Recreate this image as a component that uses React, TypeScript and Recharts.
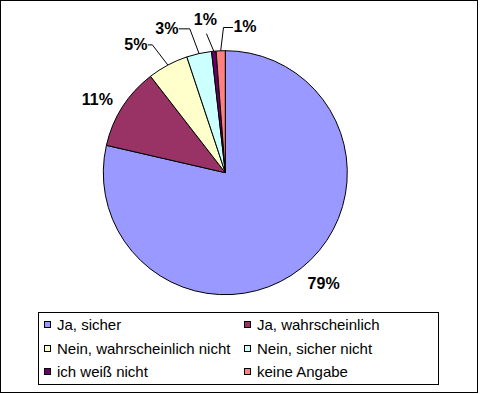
import React from "react";
import { PieChart, Pie, Cell, Legend } from "recharts";

const categories = [
  "Ja, sicher",
  "Ja, wahrscheinlich",
  "Nein, wahrscheinlich nicht",
  "Nein, sicher nicht",
  "ich weiß nicht",
  "keine Angabe",
];
const shares = [78.6, 10.9, 5.4, 3.3, 0.6, 1.2];
const COLORS = ["#9999FF", "#993366", "#FFFFCC", "#CCFFFF", "#660066", "#FF8080"];

const data = categories.map((name, i) => ({ name, value: shares[i] }));

const FONT = "'Liberation Sans', Arial, sans-serif";

// label placement style: angle nudge (deg), extra radius, leader horizontal length
const LABEL_NUDGE = [3.1, 2.7, 6.9, 9.7, 2.0, -9.8];
const LABEL_EXTRA = [26, 25.5, 34, 33.3, 32.3, 26];
const LEADER_H = [0, 0, 4.5, 11, 0, 9.5];
const LEADER = [false, false, true, true, true, true];

const RAD = Math.PI / 180;

const renderLabel = (props: any) => {
  const { cx, cy, midAngle, outerRadius, index, percent } = props;
  const a = midAngle + LABEL_NUDGE[index];
  const r = outerRadius + LABEL_EXTRA[index];
  const x = cx + r * Math.cos(-a * RAD);
  const y = cy + r * Math.sin(-a * RAD);
  const txt = `${Math.round(percent * 100)}%`;
  const halfW = txt.length > 2 ? 15 : 11;
  const ex = cx + outerRadius * Math.cos(-midAngle * RAD);
  const ey = cy + outerRadius * Math.sin(-midAngle * RAD);
  let line = null;
  if (LEADER[index]) {
    let pts: string;
    if (LEADER_H[index] === 0) {
      pts = `${x + 1},${y + 14} ${ex},${ey}`;
    } else if (x < ex) {
      const sx = x + halfW + 1;
      pts = `${sx},${y} ${sx + LEADER_H[index]},${y} ${ex},${ey}`;
    } else {
      const sx = x - halfW - 1;
      pts = `${sx},${y + 1.5} ${sx - LEADER_H[index]},${y + 1.5} ${ex},${ey}`;
    }
    line = <polyline points={pts} fill="none" stroke="#000" strokeWidth={1} />;
  }
  return (
    <g key={`lbl-${index}`}>
      {line}
      <text
        x={x}
        y={y}
        textAnchor="middle"
        dominantBaseline="central"
        fontFamily={FONT}
        fontWeight="bold"
        fontSize={16}
        fill="#000"
      >
        {txt}
      </text>
    </g>
  );
};

const renderLegend = () => {
  return (
    <div
      style={{
        boxSizing: "border-box",
        width: 401,
        height: 73,
        border: "1px solid #000",
        background: "#fff",
        display: "grid",
        gridTemplateColumns: "200px 200px",
        gridAutoRows: "23.5px",
        paddingLeft: 5,
        fontFamily: FONT,
        fontSize: 15,
        color: "#000",
      }}
    >
      {categories.map((name, i) => (
        <div
          key={i}
          style={{ display: "flex", alignItems: "center", whiteSpace: "nowrap" }}
        >
          <span
            style={{
              display: "inline-block",
              boxSizing: "border-box",
              width: 7,
              height: 7,
              border: "1px solid #000",
              background: COLORS[i],
              marginRight: 6,
            }}
          />
          <span>{name}</span>
        </div>
      ))}
    </div>
  );
};

export default function App() {
  return (
    <div
      style={{
        position: "absolute",
        left: 0,
        top: 0,
        width: 478,
        height: 393,
        boxSizing: "border-box",
        border: "1px solid #000",
        background: "#fff",
      }}
    >
      <div style={{ position: "absolute", left: -1, top: -1 }}>
        <PieChart width={480} height={394} margin={{ top: 0, right: 0, bottom: 0, left: 0 }}>
          <Pie
            data={data}
            dataKey="value"
            nameKey="name"
            cx={225.3}
            cy={172.7}
            outerRadius={122}
            startAngle={90}
            endAngle={-270}
            stroke="#000"
            strokeWidth={1}
            label={renderLabel}
            labelLine={false}
            isAnimationActive={false}
          >
            {data.map((d, i) => (
              <Cell key={d.name} fill={COLORS[i]} />
            ))}
          </Pie>
          <Legend
            content={renderLegend}
            wrapperStyle={{ position: "absolute", left: 38, top: 312, width: 401, height: 73 }}
          />
        </PieChart>
      </div>
    </div>
  );
}
